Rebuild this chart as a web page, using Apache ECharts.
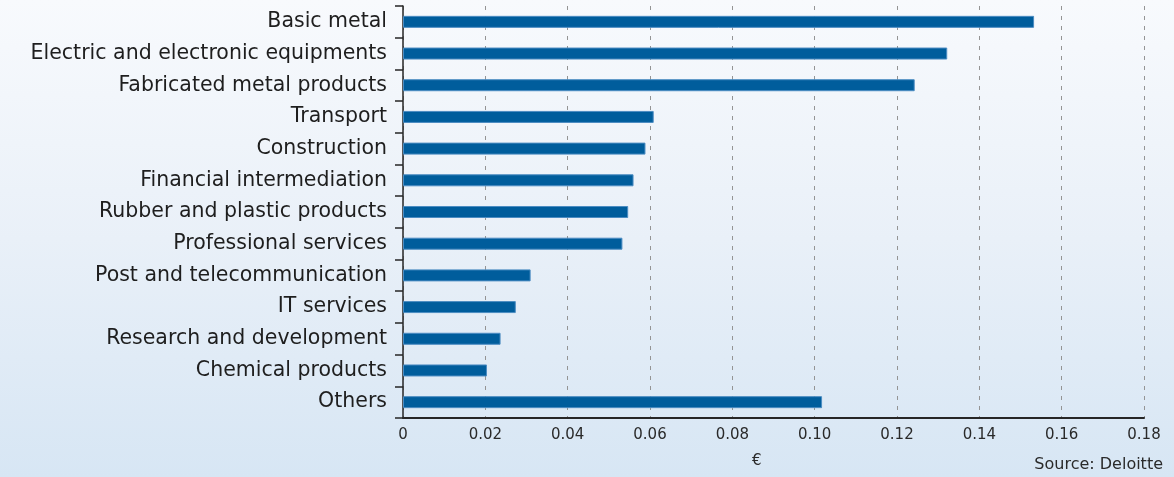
<!DOCTYPE html>
<html>
<head>
<meta charset="utf-8">
<style>
  html, body { margin: 0; padding: 0; }
  #chart { width: 1174px; height: 477px; background: linear-gradient(to bottom, #f8fafd 0%, #e9f0f8 50%, #d7e6f4 100%); }
</style>
<script src="https://cdn.jsdelivr.net/npm/echarts@6/dist/echarts.min.js"></script>
</head>
<body>
<div id="chart"></div>
<script>
// Sectors, listed top to bottom
const categories = [
  'Basic metal',
  'Electric and electronic equipments',
  'Fabricated metal products',
  'Transport',
  'Construction',
  'Financial intermediation',
  'Rubber and plastic products',
  'Professional services',
  'Post and telecommunication',
  'IT services',
  'Research and development',
  'Chemical products',
  'Others'
];
// Value per sector, in euro
const values = [0.1533, 0.1322, 0.1243, 0.0609, 0.0589, 0.0560, 0.0547, 0.0533, 0.0310, 0.0274, 0.0237, 0.0204, 0.1018];
const xTicks = ['0', '0.02', '0.04', '0.06', '0.08', '0.10', '0.12', '0.14', '0.16', '0.18'];
const axisUnit = '€';
const sourceNote = 'Source: Deloitte';

const font = '"DejaVu Sans", Verdana, sans-serif';
const chart = echarts.init(document.getElementById('chart'), null, { renderer: 'canvas' });
chart.setOption({
  animation: false,
  grid: { left: 403, right: 30, top: 6, bottom: 59, containLabel: false },
  xAxis: {
    type: 'value',
    min: 0,
    max: 0.18,
    interval: 0.02,
    axisLine: { show: true, lineStyle: { color: '#262626', width: 2 } },
    axisTick: { show: false },
    axisLabel: {
      color: '#2a2a2a', fontSize: 15, fontFamily: font, margin: 10,
      formatter: (v) => xTicks[Math.round(v / 0.02)]
    },
    splitLine: { show: true, lineStyle: { color: '#949494', type: [4, 6], width: 1 } }
  },
  yAxis: {
    type: 'category',
    inverse: true,
    data: categories,
    axisLine: { show: true, lineStyle: { color: '#262626', width: 1.5 } },
    axisTick: { show: true, length: 8, lineStyle: { color: '#262626', width: 1.5 } },
    axisLabel: { color: '#1e1e1e', fontSize: 20.5, fontFamily: font, margin: 16 }
  },
  series: [{
    type: 'bar',
    data: values,
    barWidth: 12,
    itemStyle: { color: '#005d9c', borderColor: '#4b8cc2', borderWidth: 1 }
  }],
  graphic: [
    { type: 'text', left: 752, top: 454, style: { text: axisUnit, fill: '#2a2a2a', font: '15px ' + font } },
    { type: 'text', right: 11, top: 457, style: { text: sourceNote, fill: '#2a2a2a', font: '16px ' + font } }
  ]
});
</script>
</body>
</html>
